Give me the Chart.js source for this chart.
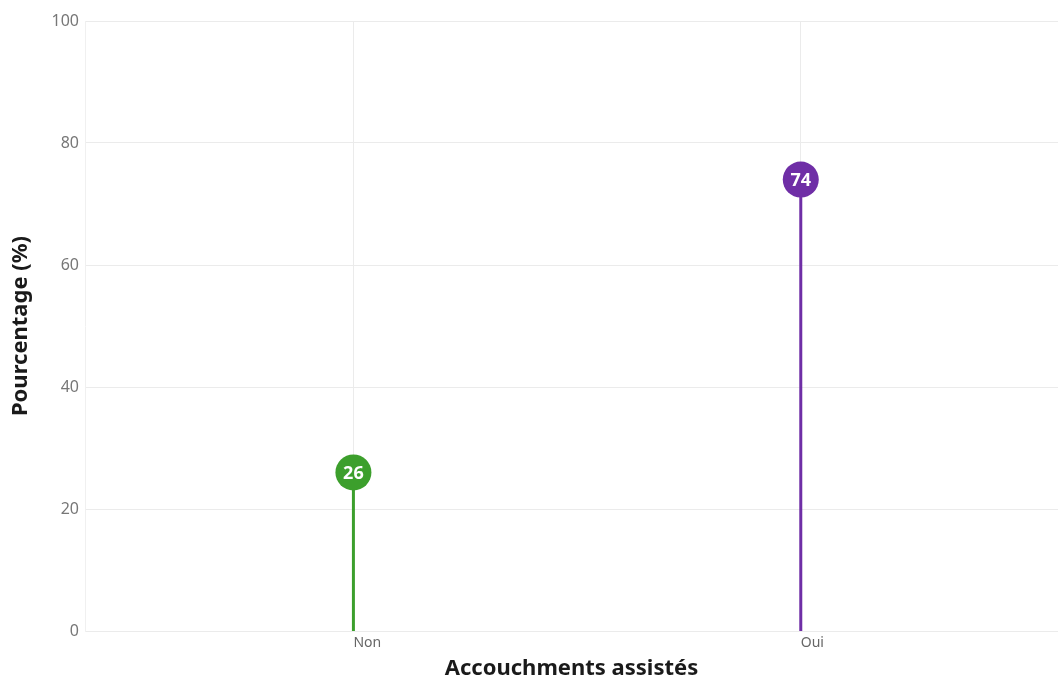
<!DOCTYPE html>
<html>
<head>
<meta charset="utf-8">
<script src="https://cdn.jsdelivr.net/npm/chart.js@4/dist/chart.umd.min.js"></script>
<style>
  html, body { margin: 0; padding: 0; background: #fff; }
  #wrap { width: 1058px; height: 682px; }
</style>
</head>
<body>
<div id="wrap"><canvas id="lollipop"></canvas></div>
<script>
// --- données ---
const categories = ['Non', 'Oui'];
const values = [26, 74];
const colors = ['#3c9f2c', '#6f2ea6'];
const yTicks = [0, 20, 40, 60, 80, 100];

const FONT = '"Noto Sans", "Open Sans", sans-serif';

// un dataset par catégorie : tige de 0 à la valeur + pastille au sommet
const datasets = categories.map((cat, i) => ({
    label: cat,
    data: [{ x: i, y: 0 }, { x: i, y: values[i] }],
    borderColor: colors[i],
    backgroundColor: colors[i],
    borderWidth: 3,
    pointRadius: [0, 18],
    pointHoverRadius: [0, 18],
    pointBorderWidth: 0,
    pointBackgroundColor: colors[i]
}));

// texte blanc dans les pastilles
const valueLabels = {
    id: 'valueLabels',
    afterDatasetsDraw(chart) {
        const ctx = chart.ctx;
        ctx.save();
        ctx.font = 'bold 18px ' + FONT;
        ctx.fillStyle = '#ffffff';
        ctx.textAlign = 'center';
        ctx.textBaseline = 'middle';
        chart.data.datasets.forEach((ds, i) => {
            const pt = chart.getDatasetMeta(i).data[1];
            ctx.fillText(String(values[i]), pt.x, pt.y + 1);
        });
        ctx.restore();
    }
};

new Chart(document.getElementById('lollipop'), {
    type: 'line',
    data: { datasets },
    options: {
        responsive: true,
        maintainAspectRatio: false,
        animation: false,
        layout: { autoPadding: false, padding: { top: 21, right: 0, left: 0, bottom: 0 } },
        plugins: {
            legend: { display: false },
            tooltip: { enabled: false }
        },
        scales: {
            x: {
                type: 'linear',
                min: -0.6,
                max: 1.575,
                afterBuildTicks: (scale) => {
                    scale.ticks = categories.map((c, i) => ({ value: i }));
                },
                afterFit: (scale) => { scale.height = 51; },
                ticks: {
                    color: '#666',
                    font: { family: FONT, size: 14 },
                    padding: 4,
                    align: 'start',
                    callback: (v) => categories[v]
                },
                grid: { color: '#ebebeb', lineWidth: 1, drawTicks: false },
                border: { display: false },
                title: {
                    display: true,
                    text: 'Accouchments assistés',
                    color: '#1a1a1a',
                    font: { family: FONT, size: 22, weight: 'bold' },
                    padding: { top: 6, bottom: 0 }
                }
            },
            y: {
                min: 0,
                max: 100,
                afterBuildTicks: (scale) => {
                    scale.ticks = yTicks.map(v => ({ value: v }));
                },
                afterFit: (scale) => { scale.width = 85; },
                ticks: {
                    color: '#777',
                    font: { family: FONT, size: 16 },
                    padding: 6
                },
                grid: { color: '#ebebeb', lineWidth: 1, drawTicks: false },
                border: { display: true, color: '#f0f0f0' },
                title: {
                    display: true,
                    text: 'Pourcentage (%)',
                    color: '#1a1a1a',
                    font: { family: FONT, size: 22, weight: 'bold' },
                    padding: { top: 8, bottom: 6 }
                }
            }
        }
    },
    plugins: [valueLabels]
});
</script>
</body>
</html>
